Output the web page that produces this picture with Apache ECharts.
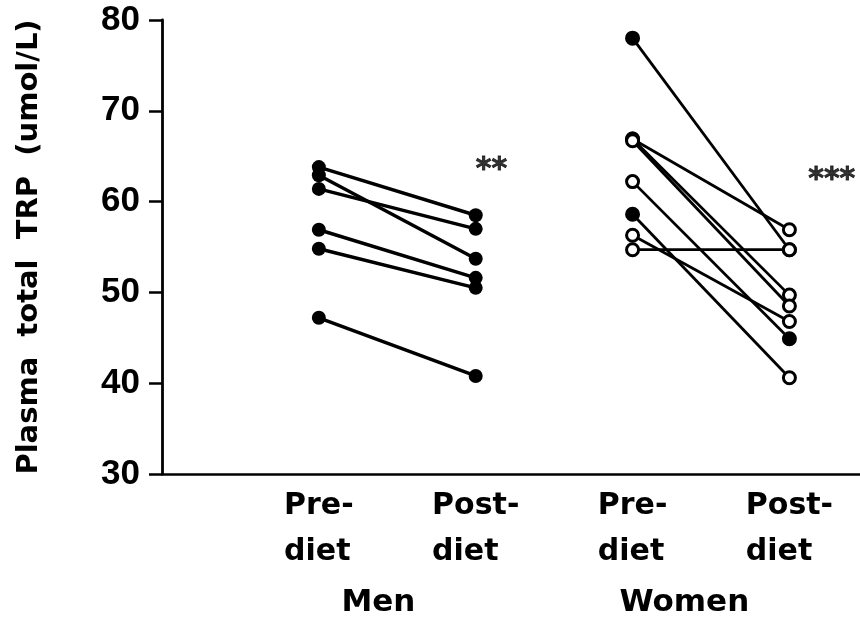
<!DOCTYPE html>
<html>
<head>
<meta charset="utf-8">
<script src="https://cdn.jsdelivr.net/npm/echarts@6/dist/echarts.min.js"></script>
<style>
  html, body { margin: 0; padding: 0; background: #fff; }
  #chart { width: 860px; height: 621px; }
</style>
</head>
<body>
<div id="chart"></div>
<script>
// Time points on the x axis (1 = men pre, 2 = men post, 3 = women pre, 4 = women post)
const timeLabels = ['Pre-\ndiet', 'Post-\ndiet', 'Pre-\ndiet', 'Post-\ndiet'];
const groupLabels = ['Men', 'Women'];
const yTicks = [30, 40, 50, 60, 70, 80];

// Plasma total TRP (umol/L), one entry per subject
const menPre    = [63.8, 62.9, 61.4, 56.9, 54.8, 47.2];
const menPost   = [58.5, 53.7, 57.0, 51.6, 50.5, 40.8];
const womenPre  = [78.0, 66.9, 66.9, 66.7, 62.2, 58.6, 56.3, 54.7];
const womenPost = [54.7, 56.9, 49.7, 48.5, 44.9, 40.6, 46.8, 54.7];

// Significance marks
const sigMarks = ['**', '***'];

const FONT = '"DejaVu Sans", "Liberation Sans", sans-serif';
const ink = '#000';

// Women's markers that print solid (subject index per time point)
const solidWomenPre = [0, 5];
const solidWomenPost = [4];

const series = [];
menPre.forEach((v, i) => {
  series.push({
    type: 'line',
    data: [[1, v], [2, menPost[i]]],
    symbol: 'circle',
    symbolSize: 14,
    itemStyle: { color: ink, borderColor: ink, borderWidth: 0 },
    lineStyle: { color: ink, width: 3.5 },
    z: 3,
    silent: true
  });
});
womenPre.forEach((v, i) => {
  const preFill = solidWomenPre.includes(i) ? ink : '#fff';
  const postFill = solidWomenPost.includes(i) ? ink : '#fff';
  series.push({
    type: 'line',
    data: [
      { value: [3, v], itemStyle: { color: preFill } },
      { value: [4, womenPost[i]], itemStyle: { color: postFill } }
    ],
    symbol: 'circle',
    symbolSize: 12,
    itemStyle: { color: '#fff', borderColor: ink, borderWidth: 3 },
    lineStyle: { color: ink, width: 2.8 },
    z: 3,
    silent: true
  });
});

// Star annotations placed in data space
const sigAt = [[2.1, 63.5], [4.27, 62.4]];
series.push({
  type: 'scatter',
  symbolSize: 0,
  silent: true,
  data: sigAt.map((p, i) => ({ value: p, name: sigMarks[i] })),
  label: {
    show: true,
    position: 'inside',
    formatter: p => p.name,
    color: ink,
    fontFamily: FONT,
    fontWeight: 'bold',
    fontSize: 30,
    textBorderColor: ink,
    textBorderWidth: 0.8
  }
});

const option = {
  backgroundColor: '#fff',
  animation: false,
  grid: { left: 162, right: 0, top: 20, bottom: 147, containLabel: false },
  xAxis: {
    type: 'value',
    min: 0,
    max: 4.45,
    interval: 1,
    splitLine: { show: false },
    axisTick: { show: false },
    axisLine: { lineStyle: { color: ink, width: 2.5 } },
    axisLabel: {
      margin: 9,
      color: ink,
      showMaxLabel: false,
      formatter: v => {
        const k = Math.round(v);
        if (k < 1 || k > 4 || Math.abs(v - k) > 1e-6) return '';
        const parts = timeLabels[k - 1].split('\n');
        return '{t|' + parts[0] + '}\n{t|' + parts[1] + '}';
      },
      rich: {
        t: {
          fontFamily: FONT, fontWeight: 'bold', fontSize: 30,
          lineHeight: 46, color: ink, align: 'left'
        }
      }
    }
  },
  yAxis: {
    type: 'value',
    min: 30,
    max: 80,
    interval: 10,
    name: 'Plasma  total  TRP  (umol/L)',
    nameLocation: 'middle',
    nameGap: 118,
    nameTextStyle: {
      color: ink, fontFamily: FONT, fontWeight: 'bold', fontSize: 29
    },
    splitLine: { show: false },
    axisLine: { show: true, lineStyle: { color: ink, width: 2.8 } },
    axisTick: { show: true, length: 13, lineStyle: { color: ink, width: 2.5 } },
    axisLabel: {
      margin: 22,
      color: ink,
      fontFamily: '"Liberation Sans", Arial, sans-serif',
      fontWeight: 'bold',
      fontSize: 35,
      formatter: v => (yTicks.includes(v) ? String(v) : '')
    }
  },
  series
};

const chart = echarts.init(document.getElementById('chart'), null, { renderer: 'canvas' });
chart.setOption(option);

// Group captions centred under each pair of time points
const groupCenters = [1.38, 3.33];
const gy = 603;
chart.setOption({
  graphic: groupLabels.map((g, i) => {
    const px = chart.convertToPixel({ gridIndex: 0 }, [groupCenters[i], 30])[0];
    return {
      type: 'text',
      x: px,
      y: gy,
      style: {
        text: g, fill: ink, font: 'bold 31px ' + FONT,
        textAlign: 'center', textVerticalAlign: 'middle'
      }
    };
  })
});
</script>
</body>
</html>
